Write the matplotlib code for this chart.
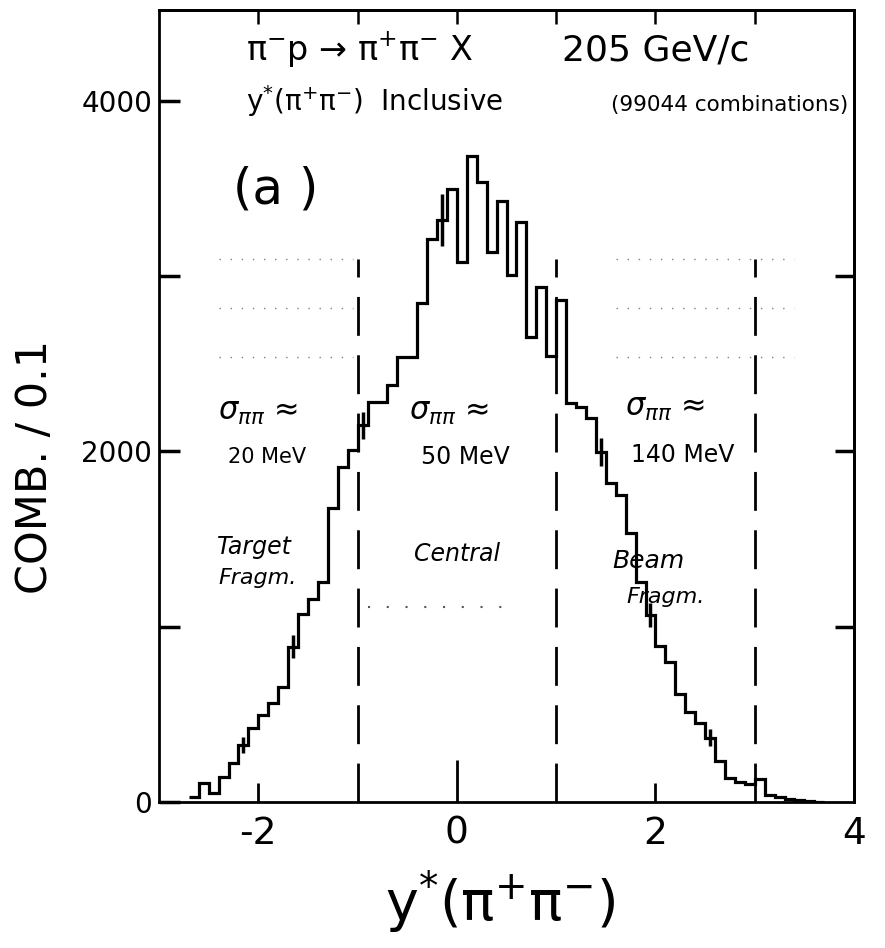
import numpy as np
import matplotlib
matplotlib.use("Agg")
import matplotlib.pyplot as plt

plt.rcParams['font.family'] = ['DejaVu Sans']
plt.rcParams['mathtext.fontset'] = 'dejavusans'

# ---------------- data ----------------
bin_start = -2.7
bin_width = 0.1
counts = [28, 107, 53, 141, 224, 325, 420, 496, 563, 654,
          886, 1072, 1160, 1255, 1678, 1912, 2009, 2150, 2284, 2284,
          2379, 2541, 2541, 2850, 3214, 3320, 3500, 3081, 3686, 3540,
          3140, 3429, 3005, 3308, 2655, 2936, 2547, 2865, 2277, 2256,
          2190, 1999, 1819, 1752, 1534, 1257, 1067, 890, 799, 615,
          514, 452, 367, 234, 139, 114, 101, 130, 38, 30,
          19, 11, 6, 2]
err_bin_left = [-2.2, -1.7, -1.0, -0.2, 1.4, 1.9, 2.5]
err_half = [48, 67, 76, 148, 80, 67, 48]
region_bounds = [-1, 1, 3]
region_top = 3100
xticks = [-2, 0, 2, 4]
xticklabels = ['-2', '0', '2', '4']
yticks = [0, 1000, 2000, 3000, 4000]
yticklabels = ['0', '', '2000', '', '4000']
top_ticks = [-2, -1, 0, 1, 2, 3]
right_ticks = [1000, 2000, 3000]

# ---------------- figure ----------------
fig = plt.figure(figsize=(8.85, 9.48), dpi=100)
ax = fig.add_axes([159/885, 1-802/948, (854-159)/885, (802-10)/948])
ax.set_xlim(-3, 4)
ax.set_ylim(0, 4519)

n = len(counts)
edges = np.round(bin_start + bin_width*np.arange(n+1), 3)
ax.stairs(counts, edges, color='black', linewidth=2.3, baseline=None)

# error bars at selected bins
idx = [int(round((b - bin_start)/bin_width)) for b in err_bin_left]
xc = [edges[i] + bin_width/2 for i in idx]
yc = [counts[i] for i in idx]
ax.errorbar(xc, yc, yerr=err_half, fmt='none', ecolor='black', elinewidth=2.5, capsize=0)

# dashed region boundaries
ax.vlines(region_bounds, 0, region_top, colors='black', linewidth=2.0,
          linestyles=[(0, (14, 7))])

# faint dotted remnants of hand-drawn guides
for yv in [3100, 2820, 2540]:
    ax.plot([-2.4, -1.05], [yv, yv], linestyle=(0, (1, 7)), color='0.5', linewidth=1.0)
    ax.plot([1.6, 3.4], [yv, yv], linestyle=(0, (1, 7)), color='0.5', linewidth=1.0)
ax.plot([-0.9, 0.55], [1110, 1110], linestyle=(0, (1, 8)), color='0.35', linewidth=1.5)

# spines
for s in ax.spines.values():
    s.set_linewidth(2.0)

# ticks
ax.set_xticks(xticks)
ax.set_xticklabels(xticklabels, fontsize=27)
ax.set_yticks(yticks)
ax.set_yticklabels(yticklabels, fontsize=20)
ax.tick_params(axis='x', direction='in', length=14, width=2.0, pad=10)
ax.tick_params(axis='y', direction='in', length=15, width=2.5, pad=5)
ax.xaxis.get_major_ticks()[1].tick1line.set_markersize(30)

secx = ax.secondary_xaxis('top')
secx.set_xticks(top_ticks)
secx.set_xticklabels([])
secx.tick_params(direction='in', length=10, width=1.8)
secx.spines['top'].set_linewidth(2.0)

secy = ax.secondary_yaxis('right')
secy.set_yticks(right_ticks)
secy.set_yticklabels([])
secy.tick_params(direction='in', length=14, width=2.5)
secy.spines['right'].set_linewidth(2.0)

# axis labels
fig.text(35/885, 1-467/948, 'COMB. / 0.1', rotation=90, fontsize=31,
         ha='center', va='center')
fig.text(500/885, 1-902/948, r'y$^{*}$(π$^{+}$π$^{-}$)', fontsize=40,
         ha='center', va='center')

# annotations (data coordinates)
ax.text(-2.12, 4290, r'π$^{-}$p → π$^{+}$π$^{-}$ X', fontsize=24,
        ha='left', va='center')
ax.text(2.95, 4290, '205 GeV/c', fontsize=26, ha='right', va='center')
ax.text(-2.12, 4000, r'y$^{*}$(π$^{+}$π$^{-}$)  Inclusive', fontsize=20,
        ha='left', va='center')
ax.text(3.94, 3975, '(99044 combinations)', fontsize=15.5,
        ha='right', va='center')
ax.text(-2.25, 3492, '(a )', fontsize=36, ha='left', va='center')

sig = r'$\sigma_{\pi\pi}$ ≈'
ax.text(-2.0, 2225, sig, fontsize=22, ha='center', va='center')
ax.text(-1.91, 1969, '20 MeV', fontsize=15, ha='center', va='center')
ax.text(-0.075, 2225, sig, fontsize=22, ha='center', va='center')
ax.text(0.085, 1969, '50 MeV', fontsize=17, ha='center', va='center')
ax.text(2.1, 2248, sig, fontsize=22, ha='center', va='center')
ax.text(2.27, 1980, '140 MeV', fontsize=17, ha='center', va='center')

ax.text(-2.04, 1455, 'Target', fontsize=17, style='italic', ha='center', va='center')
ax.text(-2.01, 1278, 'Fragm.', fontsize=16, style='italic', ha='center', va='center')
ax.text(0.005, 1415, 'Central', fontsize=17, style='italic', ha='center', va='center')
ax.text(1.93, 1375, 'Beam', fontsize=18, style='italic', ha='center', va='center')
ax.text(2.1, 1170, 'Fragm.', fontsize=16, style='italic', ha='center', va='center')

fig.savefig('out.png', dpi=100)
